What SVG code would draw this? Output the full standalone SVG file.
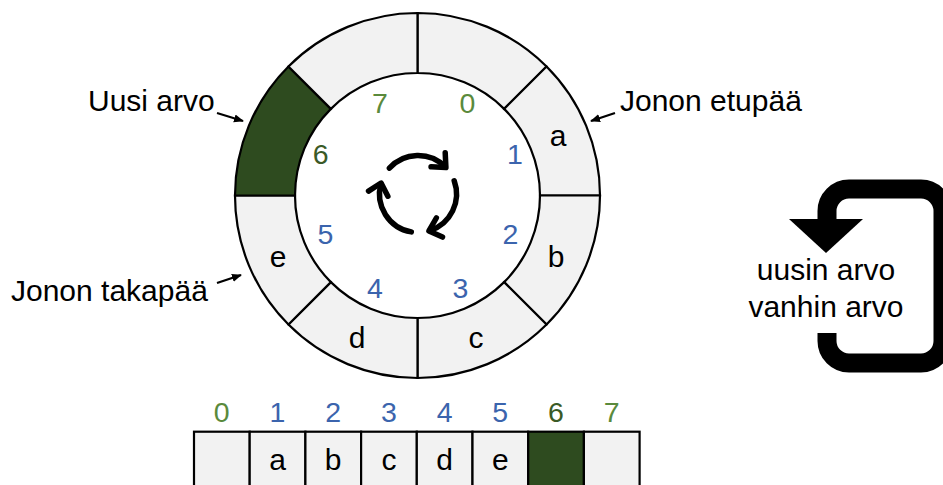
<svg xmlns="http://www.w3.org/2000/svg" width="943" height="485" viewBox="0 0 943 485">
<style>
.slot{fill:#f2f2f2;stroke:#000;stroke-width:2.2}
.new{fill:#2e4b1f;stroke:#000;stroke-width:2.2}
.t{font-family:"Liberation Sans",Arial,sans-serif;font-size:30px;fill:#000}
.v{font-family:"Liberation Sans",Arial,sans-serif;font-size:30px;fill:#000;text-anchor:middle}
.d{font-family:"Liberation Sans",Arial,sans-serif;font-size:28.5px;text-anchor:middle}
.g{fill:#5a8a3c}.dg{fill:#3a5a26}.b{fill:#3b64ad}
.thin{fill:none;stroke:#000;stroke-width:2.2}
.cyc{fill:none;stroke:#000;stroke-width:5.5;stroke-linecap:round}
</style>
<defs>
<marker id="ah" markerUnits="userSpaceOnUse" viewBox="0 0 10 10" refX="9" refY="5" markerWidth="10" markerHeight="10" orient="auto"><path d="M0,1 L10,5 L0,9 Z" fill="#000"/></marker>
<marker id="chev" markerUnits="userSpaceOnUse" viewBox="-14 -14 20 28" refX="0" refY="0" markerWidth="20" markerHeight="28" orient="auto" overflow="visible"><path d="M-10,-10 L1,0 L-10,10" fill="none" stroke="#000" stroke-width="5.5" stroke-linecap="round" stroke-linejoin="round"/></marker>
</defs>
<rect width="943" height="485" fill="#fff"/>
<g id="ring">
<g id="slot0"><path class="slot" d="M417.5,13 A182.5,182.5 0 0 1 546.55,66.45 L504.12,108.88 A122.5,122.5 0 0 0 417.5,73 Z"/></g>
<g id="slot1"><path class="slot" d="M546.55,66.45 A182.5,182.5 0 0 1 600,195.5 L540,195.5 A122.5,122.5 0 0 0 504.12,108.88 Z"/><text class="v" x="558" y="146">a</text></g>
<g id="slot2"><path class="slot" d="M600,195.5 A182.5,182.5 0 0 1 546.55,324.55 L504.12,282.12 A122.5,122.5 0 0 0 540,195.5 Z"/><text class="v" x="556" y="267">b</text></g>
<g id="slot3"><path class="slot" d="M546.55,324.55 A182.5,182.5 0 0 1 417.5,378 L417.5,318 A122.5,122.5 0 0 0 504.12,282.12 Z"/><text class="v" x="476" y="348">c</text></g>
<g id="slot4"><path class="slot" d="M417.5,378 A182.5,182.5 0 0 1 288.45,324.55 L330.88,282.12 A122.5,122.5 0 0 0 417.5,318 Z"/><text class="v" x="357" y="348">d</text></g>
<g id="slot5"><path class="slot" d="M288.45,324.55 A182.5,182.5 0 0 1 235,195.5 L295,195.5 A122.5,122.5 0 0 0 330.88,282.12 Z"/><text class="v" x="278" y="267">e</text></g>
<g id="slot6"><path class="new" d="M235,195.5 A182.5,182.5 0 0 1 288.45,66.45 L330.88,108.88 A122.5,122.5 0 0 0 295,195.5 Z"/></g>
<g id="slot7"><path class="slot" d="M288.45,66.45 A182.5,182.5 0 0 1 417.5,13 L417.5,73 A122.5,122.5 0 0 0 330.88,108.88 Z"/></g>
</g>
<g id="ring-indices">
<text class="d g" x="380" y="113">7</text>
<text class="d g" x="467.5" y="113">0</text>
<text class="d b" x="515" y="163.5">1</text>
<text class="d dg" x="320.7" y="163.5">6</text>
<text class="d b" x="325.5" y="244">5</text>
<text class="d b" x="510.5" y="244">2</text>
<text class="d b" x="375" y="298">4</text>
<text class="d b" x="460.5" y="298">3</text>
</g>
<g id="label-new"><text class="t" x="88" y="111">Uusi arvo</text></g>
<g id="label-rear"><text class="t" x="11" y="301">Jonon takapää</text></g>
<g id="label-front"><text class="t" x="620" y="111">Jonon etupää</text></g>
<g id="label-loop"><text class="t" x="826" y="280" text-anchor="middle">uusin arvo</text><text class="t" x="826" y="317" text-anchor="middle">vanhin arvo</text></g>
<g id="array">
<g id="cell0"><rect class="slot" x="194" y="431.7" width="55.7" height="70"/><text class="d g" x="221.8" y="421.5">0</text></g>
<g id="cell1"><rect class="slot" x="249.7" y="431.7" width="55.7" height="70"/><text class="d b" x="277.5" y="421.5">1</text><text class="v" x="277.5" y="470">a</text></g>
<g id="cell2"><rect class="slot" x="305.4" y="431.7" width="55.7" height="70"/><text class="d b" x="333.2" y="421.5">2</text><text class="v" x="333.2" y="470">b</text></g>
<g id="cell3"><rect class="slot" x="361.1" y="431.7" width="55.7" height="70"/><text class="d b" x="388.9" y="421.5">3</text><text class="v" x="388.9" y="470">c</text></g>
<g id="cell4"><rect class="slot" x="416.8" y="431.7" width="55.7" height="70"/><text class="d b" x="444.6" y="421.5">4</text><text class="v" x="444.6" y="470">d</text></g>
<g id="cell5"><rect class="slot" x="472.5" y="431.7" width="55.7" height="70"/><text class="d b" x="500.3" y="421.5">5</text><text class="v" x="500.3" y="470">e</text></g>
<g id="cell6"><rect class="new" x="528.2" y="431.7" width="55.7" height="70"/><text class="d dg" x="556" y="421.5">6</text></g>
<g id="cell7"><rect class="slot" x="583.9" y="431.7" width="55.7" height="70"/><text class="d g" x="611.7" y="421.5">7</text></g>
</g>
<g id="connectors">
<path class="thin" d="M217,113 L243,121" marker-end="url(#ah)"/>
<path class="thin" d="M217,283 L241,275" marker-end="url(#ah)"/>
<path class="thin" d="M615,113 L591,121" marker-end="url(#ah)"/>
<path class="cyc" d="M389.4,168.2 A38.5,38.5 0 0 1 445.2,166.8" marker-end="url(#chev)"/>
<path class="cyc" d="M454.2,180.8 A38.5,38.5 0 0 1 429.9,230.6" marker-end="url(#chev)"/>
<path class="cyc" d="M411.3,231.9 A38.5,38.5 0 0 1 380.8,184.0" marker-end="url(#chev)"/>
<path d="M827,333 L827,341 A22,22 0 0 0 849,363 L921,363 A22,22 0 0 0 943,341 L943,211 A22,22 0 0 0 921,189 L849,189 A22,22 0 0 0 827,211 L827,222" fill="none" stroke="#000" stroke-width="19"/>
<path d="M789,219 L863,219 L826,253 Z" fill="#000"/>
</g>
</svg>
